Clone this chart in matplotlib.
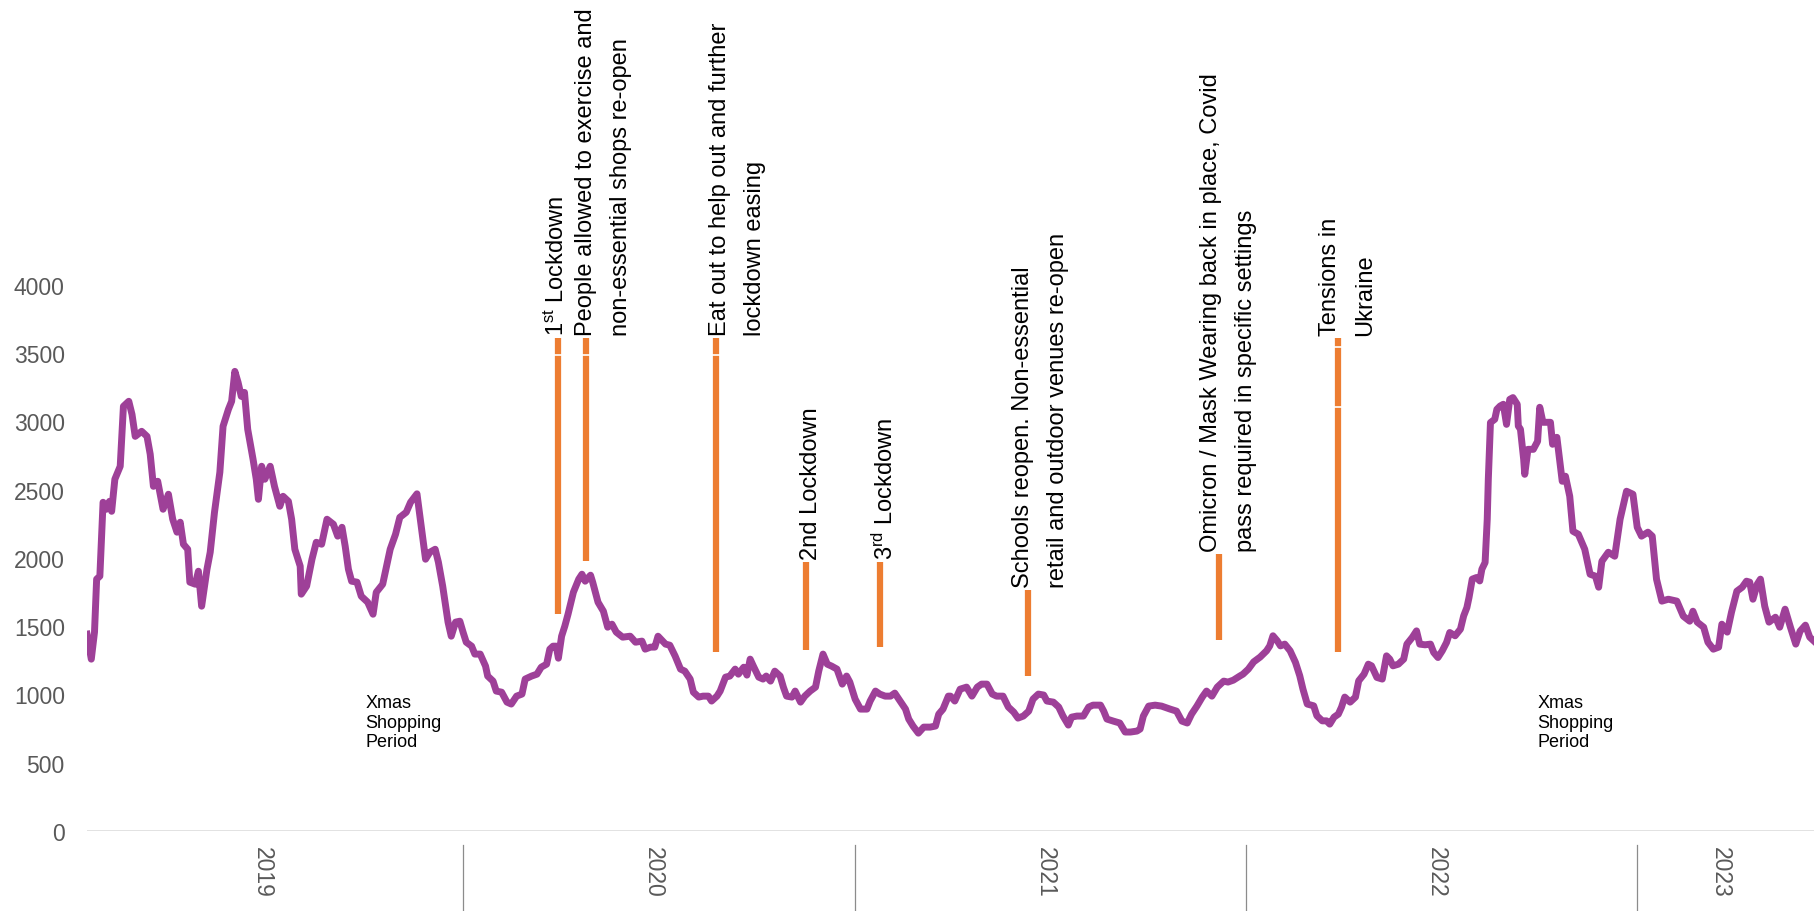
import numpy as np
import matplotlib
matplotlib.use("Agg")
import matplotlib.pyplot as plt

plt.rcParams["font.family"] = ["Liberation Sans", "DejaVu Sans"]
plt.rcParams["mathtext.fontset"] = "custom"
plt.rcParams["mathtext.rm"] = "Liberation Sans"
plt.rcParams["mathtext.it"] = "Liberation Sans:italic"
plt.rcParams["mathtext.bf"] = "Liberation Sans:bold"

PURPLE = "#9E4098"
ORANGE = "#ED7D31"
GREY = "#595959"

# x = days since 1 Jan 2019
days = [
    14, 18, 21, 23, 26, 29, 32, 35, 37, 40, 45, 48, 53, 56, 59, 65, 70, 73, 76, 80,
    85, 90, 94, 98, 101, 104, 108, 110, 115, 118, 121, 126, 129, 133, 138, 141, 146, 149, 152, 155,
    158, 161, 164, 169, 172, 174, 177, 180, 185, 189, 194, 197, 202, 205, 208, 213, 214, 219, 224, 228,
    233, 238, 244, 248, 252, 255, 258, 261, 266, 270, 276,
    281, 284, 290, 297, 302, 306, 312, 316, 322, 326, 330, 334, 339, 342, 346, 351, 354, 358, 362, 365,
    368, 373, 376, 381, 386, 388, 393, 396, 401, 406, 410, 415, 420, 423, 429, 434, 438, 443, 446, 449,
    452, 454, 457, 460, 463, 468, 473, 476, 479, 484, 486, 491, 496, 500, 504, 508, 514, 521, 526, 532,
    535, 540,
    544, 547, 554, 558, 563, 568, 572, 577, 580, 585, 589, 594, 597, 602, 605, 610, 614, 619, 622, 627,
    630, 633, 636, 641, 645, 648, 652, 656, 661, 664, 667, 672, 675, 680, 684, 689, 694, 697, 701, 705,
    709, 714, 719, 723, 726, 731, 736, 742, 745, 750, 754, 759, 764, 768, 773, 778, 781, 785, 790, 795,
    801, 806, 809, 813, 818,
    820, 824, 829, 835, 840, 845, 849, 854, 859, 863, 869, 874, 879, 883, 888, 893, 897, 902, 907, 910,
    916, 921, 925, 930, 933, 938, 944, 949, 953, 960, 963, 966, 972, 978, 983, 988, 994, 997, 1000, 1005,
    1011, 1017, 1025, 1031, 1036, 1041, 1045, 1050, 1055, 1059, 1064, 1069, 1075, 1079, 1084, 1090,
    1093, 1098, 1103, 1109, 1115, 1118, 1121, 1125, 1128, 1132, 1137, 1142, 1146, 1149, 1153, 1159, 1162, 1167, 1171, 1174,
    1178, 1182, 1185, 1188, 1193, 1198, 1201, 1206, 1210, 1213, 1218, 1223, 1227, 1230, 1233, 1238, 1243, 1246, 1251, 1255,
    1258, 1263, 1268, 1271, 1275, 1279, 1283, 1286, 1291, 1296, 1299, 1302, 1304, 1307, 1311, 1314, 1316, 1319, 1321, 1322,
    1324, 1328, 1330, 1333, 1336, 1339, 1342, 1345, 1349, 1350, 1352, 1355, 1356,
    1359, 1364, 1368, 1370, 1373, 1380, 1382, 1386, 1391, 1394, 1398, 1401, 1406, 1412, 1417, 1422, 1425, 1428, 1434, 1440,
    1445, 1451, 1457, 1461, 1465, 1471, 1475, 1479, 1484, 1490, 1498, 1504, 1510, 1513, 1517, 1523, 1527, 1532, 1537, 1540,
    1545, 1549, 1554, 1559, 1563, 1566, 1569, 1573, 1576, 1580, 1584, 1590, 1594, 1599, 1604, 1609, 1613, 1618, 1622, 1626,
]
footfall = [
    1442, 1259, 1457, 1845, 1867, 2408, 2357, 2415, 2342, 2577, 2672, 3111, 3148, 3052, 2891, 2928, 2891, 2760, 2525, 2562,
    2357, 2467, 2284, 2189, 2262, 2101, 2064, 1823, 1808, 1903, 1647, 1918, 2042, 2335, 2628, 2965, 3089, 3148, 3367, 3287,
    3184, 3213, 2943, 2723, 2577, 2430, 2672, 2577, 2672, 2525, 2379, 2452, 2415, 2284, 2064, 1940, 1735, 1794, 1991, 2115,
    2101, 2284, 2247, 2160, 2225, 2086, 1918, 1830, 1823, 1720, 1676,
    1588, 1749, 1808, 2064, 2174, 2298, 2335, 2408, 2470, 2233, 1991, 2042, 2064, 1969, 1794, 1530, 1427, 1530, 1537, 1457,
    1383, 1354, 1296, 1296, 1208, 1135, 1098, 1025, 1017, 944, 930, 988, 1003, 1113, 1135, 1149, 1200, 1222, 1332, 1354,
    1354, 1266, 1427, 1501, 1588, 1749, 1845, 1881, 1830, 1874, 1823, 1676, 1610, 1493, 1515, 1457, 1420, 1427, 1383, 1391,
    1332, 1347,
    1347, 1427, 1369, 1361, 1281, 1186, 1171, 1113, 1017, 981, 988, 988, 952, 988, 1025, 1127, 1135, 1186, 1149, 1200,
    1142, 1259, 1208, 1127, 1113, 1135, 1098, 1171, 1135, 1054, 988, 981, 1025, 944, 988, 1025, 1054, 1171, 1296, 1222,
    1208, 1186, 1076, 1135, 1091, 966, 893, 893, 952, 1025, 1003, 988, 988, 1010, 952, 893, 820, 769, 717, 761,
    761, 769, 856, 893, 988,
    988, 952, 1039, 1054, 988, 1054, 1076, 1076, 1003, 988, 988, 908, 871, 827, 842, 878, 966, 1003, 996, 952,
    944, 908, 842, 776, 834, 842, 842, 908, 922, 922, 878, 820, 805, 791, 725, 725, 732, 747, 842, 915,
    922, 915, 893, 878, 805, 791, 856, 915, 981, 1025, 988, 1054, 1098, 1091, 1105, 1135,
    1149, 1186, 1239, 1274, 1320, 1356, 1430, 1393, 1356, 1369, 1320, 1235, 1137, 1039, 930, 917, 844, 807, 807, 783,
    834, 856, 908, 981, 944, 981, 1100, 1149, 1222, 1210, 1125, 1113, 1283, 1259, 1210, 1222, 1259, 1369, 1418, 1466,
    1369, 1364, 1369, 1308, 1271, 1320, 1381, 1454, 1430, 1479, 1576, 1637, 1711, 1845, 1857, 1832, 1918, 1967, 2284, 2577,
    2992, 3016, 3089, 3113, 3126, 2979, 3162, 3175, 3126, 2967, 2943, 2723, 2613,
    2796, 2796, 2855, 3104, 2994, 2994, 2833, 2884, 2562, 2599, 2452, 2196, 2174, 2064, 1881, 1867, 1786, 1976, 2042, 2013,
    2284, 2489, 2467, 2225, 2160, 2189, 2160, 1845, 1684, 1698, 1684, 1574, 1537, 1610, 1530, 1493, 1383, 1332, 1347, 1515,
    1457, 1603, 1757, 1786, 1830, 1823, 1698, 1808, 1845, 1647, 1530, 1566, 1493, 1625, 1493, 1369, 1464, 1508, 1420, 1391,
]

event_labels = [
    "1$^{\\mathrm{st}}$ Lockdown",
    "People allowed to exercise and\nnon-essential shops re-open",
    "Eat out to help out and further\nlockdown easing",
    "2nd Lockdown",
    "3$^{\\mathrm{rd}}$ Lockdown",
    "Schools reopen. Non-essential\nretail and outdoor venues re-open",
    "Omicron / Mask Wearing back in place, Covid\npass required in specific settings",
    "Tensions in\nUkraine",
]
event_days = [454, 480, 601, 685, 754, 892, 1071, 1182]
event_top = [3609, 3609, 3609, 1969, 1969, 1764, 2028, 3609]
event_bottom = [1588, 1976, 1310, 1325, 1347, 1135, 1398, 1310]
event_gaps = [[3490], [3490], [3490], [], [], [], [], [3543, 3104]]

xmas_days = [274, 1368]

years = ["2019", "2020", "2021", "2022", "2023"]
year_start = [0, 365, 731, 1096, 1461]
year_end = [365, 731, 1096, 1461, 1626]

fig = plt.figure(figsize=(18.14, 9.12), dpi=100)
ax = fig.add_axes([87 / 1814, 80 / 912, 1 - 87 / 1814, 832 / 912])
ax.set_xlim(14, 1626)
ax.set_ylim(0, 6095)

for s in ax.spines.values():
    s.set_visible(False)
ax.axhline(0, color="#d9d9d9", linewidth=1.8, zorder=1)

ax.plot(days, footfall, color=PURPLE, linewidth=5, solid_joinstyle="round", zorder=3)

# event markers with text above
offsets = [-9.5, -8, -5, -4.5, -5, -11, -14, -14]
for lab, d, top, bot, gaps, dx in zip(event_labels, event_days, event_top,
                                     event_bottom, event_gaps, offsets):
    ax.plot([d, d], [bot, top], color=ORANGE, linewidth=4.5,
            solid_capstyle="butt", zorder=4)
    for g in gaps:
        ax.plot([d - 4, d + 4], [g, g], color="white", linewidth=1.2, zorder=5)
    ax.annotate(lab, xy=(d, top), xytext=(dx, 2.5), textcoords="offset points",
                rotation=90, rotation_mode="anchor", ha="left", va="top",
                fontsize=17, linespacing=1.75, color="black")

for d in xmas_days:
    ax.text(d, 1003, "Xmas\nShopping\nPeriod", fontsize=13, ha="left", va="top",
            color="black")

# year axis
trans = ax.get_xaxis_transform()
for b in year_start[1:]:
    ax.plot([b, b], [-14 / 832, -80 / 832], transform=trans, color="#8c8c8c",
            linewidth=0.9, clip_on=False)
for y, a, b in zip(years, year_start, year_end):
    ax.annotate(y, xy=((a + b) / 2, 0), xycoords=("data", "axes fraction"),
                xytext=(-4, -11), textcoords="offset points", rotation=270,
                ha="center", va="top", fontsize=16.5, color=GREY)

ax.set_xticks([])
ax.set_yticks(np.arange(0, 4001, 500))
ax.tick_params(axis="y", length=0, pad=16, labelsize=16.5, labelcolor=GREY)

fig.savefig("out.png", dpi=100)
